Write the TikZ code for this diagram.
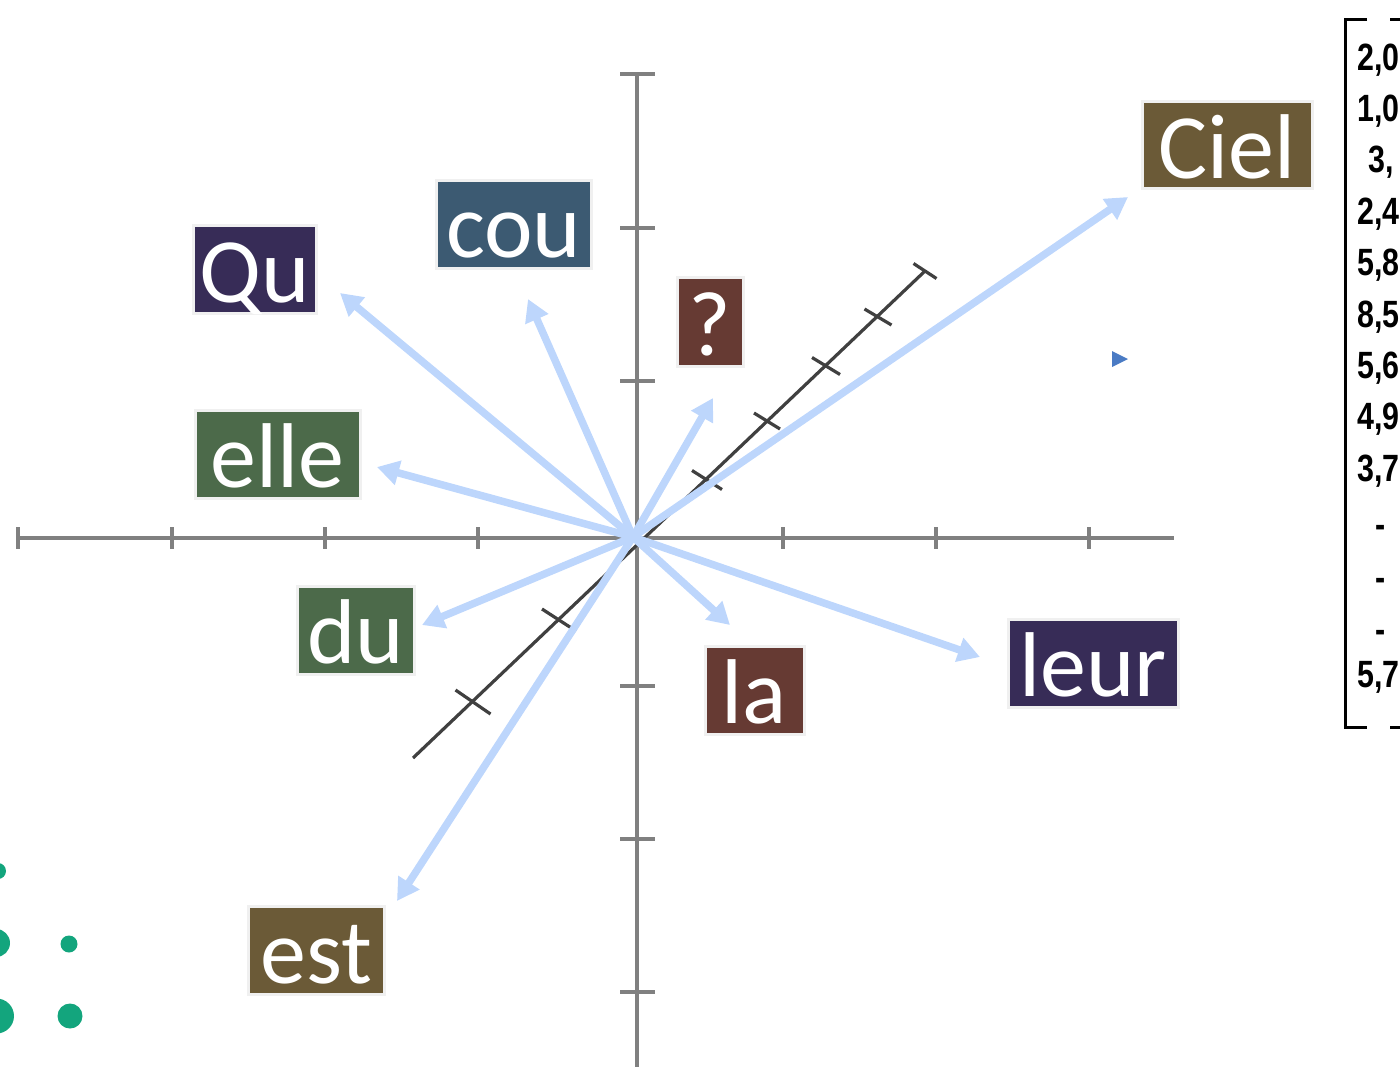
\documentclass[tikz,border=0pt]{standalone}
\usepackage{fontspec}
\setmainfont{Carlito}
\newfontfamily\numfont{Liberation Sans}
\usetikzlibrary{arrows.meta}
\definecolor{axisgray}{HTML}{808080}
\definecolor{depthgray}{HTML}{404040}
\definecolor{vecblue}{HTML}{BDD6FC}
\definecolor{cPurple}{HTML}{372C57}
\definecolor{cSlate}{HTML}{3C5A72}
\definecolor{cBrown}{HTML}{663A33}
\definecolor{cOlive}{HTML}{6B5A37}
\definecolor{cGreen}{HTML}{4C6A4A}
\definecolor{dotgreen}{HTML}{13A57D}
\definecolor{triblue}{HTML}{4A7BC4}
\definecolor{boxedge}{HTML}{F0F0F0}
\tikzset{
  axis/.style={draw=axisgray, line width=4.5pt},
  depthaxis/.style={draw=depthgray, line width=3.2pt},
  vec/.style={draw=vecblue, line width=7.5pt, -{Triangle[length=22pt,width=24pt]}},
  word/.style={draw=boxedge, line width=3pt, text=white, inner sep=0pt,
    minimum height=88pt, text height=67pt, text depth=0pt,
    font=\fontsize{92}{92}\selectfont},
  num/.style={inner sep=0pt, anchor=base west, xscale=0.8,
    font=\numfont\bfseries\fontsize{38}{38}\selectfont},
  bracket/.style={draw=black, line width=3pt}
}
\begin{document}
\begin{tikzpicture}[x=1pt,y=-1pt]
\useasboundingbox (0,0) rectangle (1400,1066);
\clip (0,0) rectangle (1400,1066);
% main axes
\draw[axis] (18,538) -- (1174,538);
\foreach \x in {18,172,325,478,783,936,1089} \draw[axis] (\x,527) -- (\x,549);
\draw[axis] (637,73) -- (637,1070);
\foreach \y in {74,228,381,686,839,992} \draw[axis] (620,\y) -- (655,\y);
% depth axis
\draw[depthaxis] (413,758) -- (925,271);
\foreach \px/\py/\hx/\hy in {473/702/17.5/12, 559/620/17/11, 707/480/15/9.5, 767/421/13/8, 826/366/14/8.5, 878/317/13.5/8, 925/271/11.5/7.5}
  \draw[depthaxis] (\px-\hx,\py-\hy) -- (\px+\hx,\py+\hy);
% vectors
\coordinate (O) at (633,537);
\coordinate (tQu) at (340,293);
\coordinate (tcou) at (528,299);
\coordinate (tq) at (713,398);
\coordinate (tCiel) at (1128,197);
\coordinate (telle) at (377,467);
\coordinate (tdu) at (422,625);
\coordinate (tla) at (730,625);
\coordinate (tleur) at (980,657);
\coordinate (test) at (397,901);
\foreach \t in {tQu,tcou,tq,tCiel,telle,tdu,tla,tleur,test}
  \draw[vec] (O) -- (\t);
% word labels
\node[word, fill=cPurple, minimum width=123pt] (Qu) at (254.5,269) {Qu};
\node[word, fill=cSlate, minimum width=155pt] (cou) at (513.5,224) {cou};
\node[word, fill=cBrown, minimum width=66pt, minimum height=89pt] (q) at (710,321.5) {?};
\node[word, fill=cOlive, minimum width=170pt, minimum height=87pt] (Ciel) at (1227,144.5) {Ciel};
\node[word, fill=cGreen, minimum width=165pt] (elle) at (277.5,454) {elle};
\node[word, fill=cGreen, minimum width=117pt] (du) at (355.5,630) {du};
\node[word, fill=cBrown, minimum width=99pt] (la) at (754.5,690) {la};
\node[word, fill=cPurple, minimum width=170pt] (leur) at (1093,663) {leur};
\node[word, fill=cOlive, minimum width=136pt] (est) at (316,950) {est};
% small triangle marker
\fill[triblue] (1112,351) -- (1128,359) -- (1112,367) -- cycle;
% matrix bracket
\draw[bracket] (1367,19) -- (1345,19) -- (1345,727) -- (1367,727);
\draw[bracket] (1390,19) -- (1402,19);
\draw[bracket] (1390,727) -- (1402,727);
% matrix values
\node[num] (m1) at (1357,70) {2,0};
\node[num] (m2) at (1357,121.4) {1,0};
\node[num] (m3) at (1368,172.8) {3,};
\node[num] (m4) at (1357,224.2) {2,4};
\node[num] (m5) at (1357,275.6) {5,8};
\node[num] (m6) at (1357,327) {8,5};
\node[num] (m7) at (1357,378.4) {5,6};
\node[num] (m8) at (1357,429.8) {4,9};
\node[num] (m9) at (1357,481.2) {3,7};
\node[num] (m10) at (1375,537) {-};
\node[num] (m11) at (1375,590) {-};
\node[num] (m12) at (1375,642) {-};
\node[num] (m13) at (1357,687) {5,7};
% green dots
\fill[dotgreen] (-2,871) circle[radius=8pt];
\fill[dotgreen] (-4,943) circle[radius=14pt];
\fill[dotgreen] (-3.5,1016) circle[radius=17.5pt];
\fill[dotgreen] (69,944) circle[radius=8.5pt];
\fill[dotgreen] (70,1016) circle[radius=12.5pt];
\end{tikzpicture}
\end{document}
